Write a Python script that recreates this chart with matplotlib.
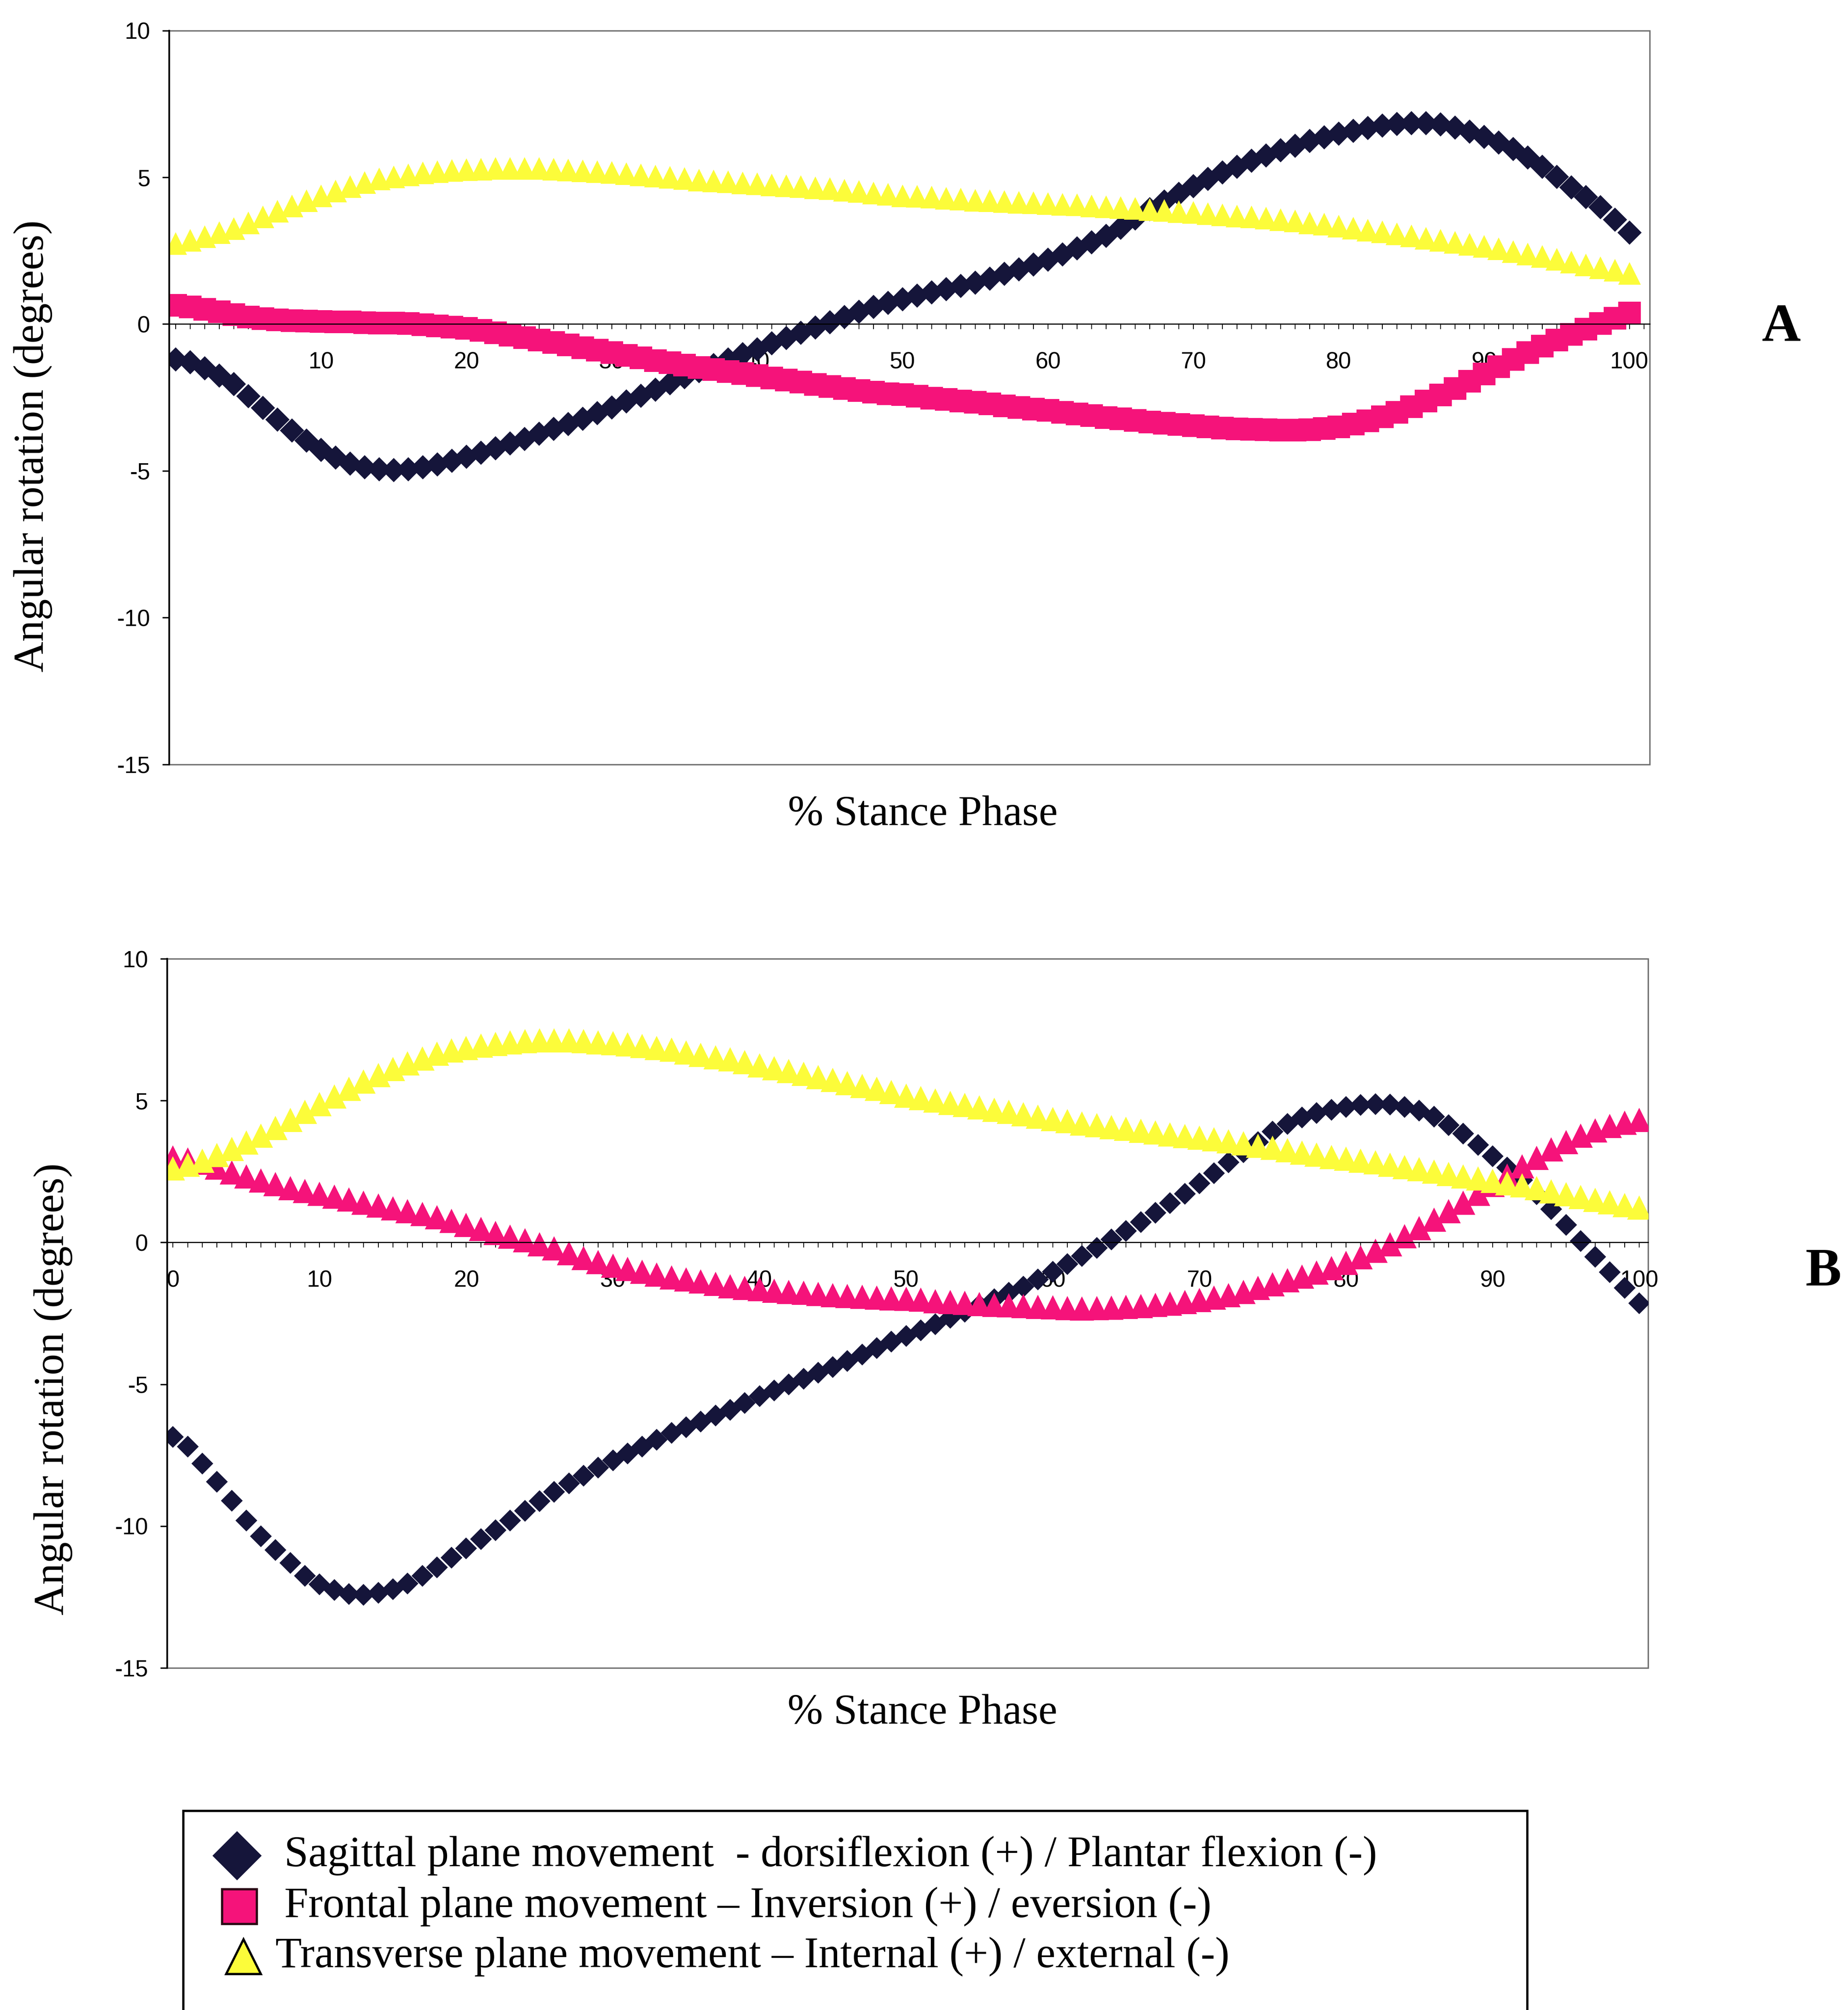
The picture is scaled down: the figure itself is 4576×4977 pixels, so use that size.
import numpy as np
import matplotlib
matplotlib.use("Agg")
import matplotlib.pyplot as plt
from matplotlib.lines import Line2D
from matplotlib.patches import Rectangle
from matplotlib.ticker import MultipleLocator

# % stance phase (one point per percent)
stance = np.arange(0, 101)

# panel A
a_sagittal = [-1.20, -1.30, -1.50, -1.75, -2.05, -2.45, -2.85, -3.25, -3.62, -3.97,
              -4.28, -4.55, -4.75, -4.88, -4.95, -4.98, -4.95, -4.88, -4.78, -4.66,
              -4.52, -4.38, -4.23, -4.07, -3.91, -3.74, -3.57, -3.40, -3.22, -3.03,
              -2.84, -2.64, -2.44, -2.23, -2.02, -1.81, -1.60, -1.40, -1.20, -1.02,
              -0.86, -0.66, -0.48, -0.30, -0.12, 0.06, 0.24, 0.42, 0.58, 0.72,
              0.85, 0.97, 1.08, 1.19, 1.30, 1.41, 1.55, 1.71, 1.87, 2.03,
              2.20, 2.38, 2.58, 2.78, 3.00, 3.28, 3.60, 3.92, 4.18, 4.44,
              4.70, 4.94, 5.16, 5.36, 5.56, 5.74, 5.92, 6.08, 6.24, 6.36,
              6.48, 6.58, 6.68, 6.76, 6.82, 6.85, 6.84, 6.80, 6.70, 6.56,
              6.38, 6.18, 5.96, 5.68, 5.36, 5.02, 4.66, 4.32, 3.98, 3.56, 3.12]
a_frontal = [0.64, 0.58, 0.50, 0.42, 0.32, 0.24, 0.18, 0.14, 0.12, 0.10,
             0.09, 0.08, 0.07, 0.05, 0.04, 0.03, 0.02, -0.02, -0.06, -0.10,
             -0.15, -0.22, -0.30, -0.38, -0.46, -0.55, -0.63, -0.71, -0.80, -0.89,
             -0.97, -1.06, -1.15, -1.24, -1.32, -1.40, -1.48, -1.55, -1.62, -1.69,
             -1.75, -1.83, -1.91, -1.98, -2.06, -2.13, -2.20, -2.26, -2.32, -2.37,
             -2.40, -2.46, -2.52, -2.57, -2.62, -2.66, -2.72, -2.78, -2.84, -2.89,
             -2.94, -3.00, -3.06, -3.12, -3.18, -3.23, -3.28, -3.33, -3.38, -3.42,
             -3.46, -3.50, -3.54, -3.57, -3.59, -3.60, -3.61, -3.61, -3.60, -3.56,
             -3.50, -3.41, -3.30, -3.16, -3.00, -2.82, -2.62, -2.42, -2.20, -1.95,
             -1.70, -1.45, -1.20, -0.97, -0.75, -0.54, -0.35, -0.17, 0.02, 0.20, 0.38]
a_transverse = [2.74, 2.85, 2.98, 3.12, 3.26, 3.45, 3.65, 3.84, 4.02, 4.20,
                4.37, 4.53, 4.68, 4.82, 4.94, 5.02, 5.09, 5.15, 5.19, 5.23,
                5.26, 5.28, 5.30, 5.31, 5.31, 5.30, 5.28, 5.25, 5.22, 5.19,
                5.16, 5.12, 5.08, 5.04, 5.00, 4.96, 4.91, 4.88, 4.85, 4.81,
                4.78, 4.74, 4.71, 4.68, 4.64, 4.61, 4.56, 4.52, 4.47, 4.42,
                4.37, 4.35, 4.32, 4.29, 4.26, 4.22, 4.20, 4.18, 4.15, 4.13,
                4.11, 4.08, 4.06, 4.03, 4.00, 3.97, 3.94, 3.90, 3.87, 3.83,
                3.80, 3.76, 3.72, 3.68, 3.65, 3.61, 3.56, 3.51, 3.45, 3.40,
                3.34, 3.27, 3.20, 3.14, 3.07, 3.00, 2.93, 2.86, 2.79, 2.72,
                2.65, 2.56, 2.47, 2.39, 2.30, 2.21, 2.11, 2.02, 1.92, 1.83, 1.73]

# panel B
b_sagittal = [-6.86, -7.20, -7.80, -8.44, -9.10, -9.80, -10.36, -10.84, -11.30, -11.75,
              -12.05, -12.26, -12.40, -12.42, -12.36, -12.22, -12.02, -11.75, -11.46, -11.12,
              -10.78, -10.46, -10.14, -9.80, -9.46, -9.12, -8.80, -8.50, -8.22, -7.94,
              -7.68, -7.44, -7.20, -6.96, -6.72, -6.52, -6.31, -6.10, -5.90, -5.66,
              -5.42, -5.22, -5.01, -4.80, -4.60, -4.39, -4.18, -3.95, -3.72, -3.50,
              -3.30, -3.10, -2.88, -2.66, -2.44, -2.22, -2.00, -1.78, -1.56, -1.30,
              -1.04, -0.76, -0.48, -0.20, 0.10, 0.40, 0.72, 1.04, 1.38, 1.72,
              2.08, 2.44, 2.82, 3.18, 3.54, 3.90, 4.18, 4.40, 4.56, 4.68,
              4.78, 4.84, 4.87, 4.86, 4.78, 4.64, 4.44, 4.14, 3.84, 3.44,
              3.04, 2.64, 2.20, 1.70, 1.18, 0.62, 0.05, -0.50, -1.05, -1.60, -2.15]
b_frontal = [2.99, 2.92, 2.81, 2.64, 2.47, 2.33, 2.19, 2.05, 1.92, 1.81,
             1.71, 1.61, 1.51, 1.40, 1.30, 1.20, 1.10, 1.00, 0.89, 0.76,
             0.62, 0.48, 0.34, 0.20, 0.07, -0.07, -0.21, -0.38, -0.55, -0.69,
             -0.82, -0.93, -1.03, -1.13, -1.23, -1.30, -1.37, -1.46, -1.54, -1.60,
             -1.65, -1.70, -1.74, -1.78, -1.82, -1.86, -1.89, -1.92, -1.95, -1.97,
             -1.99, -2.02, -2.07, -2.10, -2.13, -2.17, -2.20, -2.22, -2.25, -2.27,
             -2.29, -2.31, -2.33, -2.32, -2.30, -2.27, -2.24, -2.20, -2.16, -2.10,
             -2.03, -1.95, -1.86, -1.74, -1.60, -1.48, -1.34, -1.20, -1.06, -0.90,
             -0.72, -0.52, -0.30, -0.06, 0.22, 0.50, 0.80, 1.10, 1.40, 1.72,
             2.03, 2.35, 2.68, 2.98, 3.28, 3.54, 3.76, 3.95, 4.10, 4.22, 4.32]
b_transverse = [2.61, 2.74, 2.88, 3.08, 3.29, 3.52, 3.77, 4.04, 4.32, 4.60,
                4.87, 5.15, 5.42, 5.67, 5.90, 6.11, 6.31, 6.49, 6.65, 6.77,
                6.86, 6.94, 7.00, 7.06, 7.10, 7.12, 7.13, 7.12, 7.10, 7.06,
                7.02, 6.98, 6.93, 6.86, 6.79, 6.70, 6.61, 6.53, 6.45, 6.35,
                6.24, 6.14, 6.04, 5.94, 5.83, 5.73, 5.62, 5.52, 5.42, 5.30,
                5.18, 5.09, 5.00, 4.92, 4.84, 4.76, 4.68, 4.60, 4.52, 4.43,
                4.35, 4.27, 4.19, 4.13, 4.07, 4.00, 3.94, 3.88, 3.81, 3.75,
                3.69, 3.63, 3.57, 3.49, 3.41, 3.33, 3.25, 3.17, 3.09, 3.01,
                2.95, 2.88, 2.82, 2.74, 2.66, 2.58, 2.49, 2.41, 2.33, 2.25,
                2.17, 2.09, 2.01, 1.91, 1.80, 1.70, 1.60, 1.50, 1.41, 1.32, 1.23]

legend_labels = ["Sagittal plane movement  - dorsiflexion (+) / Plantar flexion (-)",
                 "Frontal plane movement \u2013 Inversion (+) / eversion (-)",
                 "Transverse plane movement \u2013 Internal (+) / external (-)"]

NAVY = '#15153a'
PINK = '#f5137a'
YELLOW = '#fcfc3a'

plt.rcParams['font.family'] = ['Liberation Serif', 'DejaVu Serif']
plt.rcParams['axes.unicode_minus'] = False

fig = plt.figure(figsize=(45.76, 49.77), dpi=100)
fig.patch.set_facecolor('white')

ax_a = fig.add_axes([0.0916, 0.6197, 0.8011, 0.3651])
ax_b = fig.add_axes([0.0905, 0.1702, 0.8013, 0.3528])


def style_axes(ax, xlim):
    for s in ['top', 'right']:
        ax.spines[s].set_visible(False)
    ax.spines['bottom'].set_position(('data', 0))
    ax.spines['bottom'].set_linewidth(2)
    ax.spines['left'].set_linewidth(3)
    # plot-area border
    ax.add_patch(Rectangle((0, 0), 1, 1, transform=ax.transAxes, fill=False,
                           edgecolor='#707070', lw=2.5, clip_on=False, zorder=0.5))
    ax.set_xlim(*xlim)
    ax.set_ylim(-15, 10)
    ax.xaxis.set_major_locator(MultipleLocator(10))
    ax.xaxis.set_minor_locator(MultipleLocator(1))
    ax.yaxis.set_major_locator(MultipleLocator(5))
    ax.tick_params(axis='x', which='both', direction='out', length=9, width=1.5,
                   pad=40, labelsize=41, labelfontfamily='Liberation Sans')
    ax.tick_params(axis='y', direction='out', length=12, width=2.5,
                   pad=22, labelsize=41, labelfontfamily='Liberation Sans')
    ax.set_xlabel('% Stance Phase', fontsize=76)
    ax.set_ylabel('Angular rotation (degrees)', fontsize=76)
    ax.xaxis.label.set_va('center')
    ax.yaxis.label.set_va('center')


style_axes(ax_a, (-0.44, 101.4))
style_axes(ax_b, (-0.39, 100.6))

# panel A series
ax_a.plot(stance, a_sagittal, ls='none', marker='D', ms=31, mew=0, color=NAVY)
ax_a.plot(stance, a_frontal, ls='none', marker='s', ms=41, mew=0, color=PINK)
ax_a.plot(stance, a_transverse, ls='none', marker='^', ms=40, mew=0, color=YELLOW)

# panel B series
ax_b.plot(stance, b_sagittal, ls='none', marker='D', ms=27, mew=0, color=NAVY)
ax_b.plot(stance, b_frontal, ls='none', marker='^', ms=43, mew=0, color=PINK)
ax_b.plot(stance, b_transverse, ls='none', marker='^', ms=43, mew=0, color=YELLOW)

ax_a.xaxis.set_label_coords(0.509, -0.069)
ax_a.yaxis.set_label_coords(-0.092, 0.434)
ax_b.xaxis.set_label_coords(0.510, -0.064)
ax_b.yaxis.set_label_coords(-0.077, 0.393)

fig.text(0.9640, 0.8369, 'A', fontsize=96, fontweight='bold', ha='center', va='center')
fig.text(0.9867, 0.3669, 'B', fontsize=96, fontweight='bold', ha='center', va='center')

# legend box (runs off the bottom of the page)
fig.add_artist(Rectangle((0.0992, -0.05), 0.7273, 0.1491, transform=fig.transFigure,
                         fill=False, edgecolor='black', lw=4, clip_on=False))

rows_y = [0.0768, 0.0515, 0.0265]
handles = [dict(marker='D', ms=58, color=NAVY, mec=NAVY, x=0.1283),
           dict(marker='s', ms=62, color=PINK, mec='#2a0a14', x=0.1296),
           dict(marker='^', ms=62, color=YELLOW, mec='black', x=0.1318)]
text_x = [0.1538, 0.1538, 0.1490]
for y, h, tx, lab in zip(rows_y, handles, text_x, legend_labels):
    fig.add_artist(Line2D([h['x']], [y], transform=fig.transFigure, ls='none',
                          marker=h['marker'], ms=h['ms'], color=h['color'],
                          mec=h['mec'], mew=4))
    fig.text(tx, y, lab, fontsize=77, ha='left', va='center')

fig.savefig("out.png", dpi=100, facecolor='white')
